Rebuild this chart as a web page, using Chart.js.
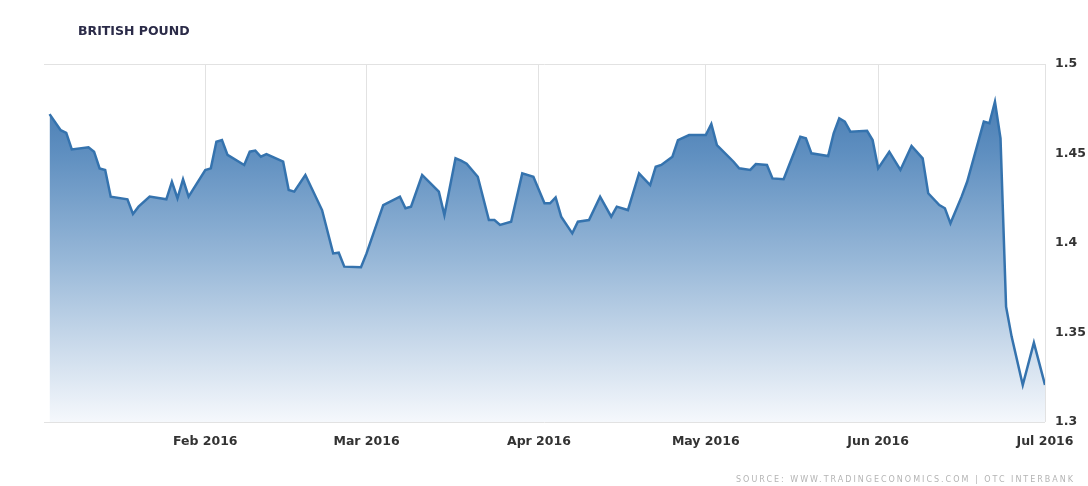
<!DOCTYPE html>
<html lang="en">
<head>
    <meta charset="UTF-8">
    <title>British Pound</title>
    <script src="https://cdn.jsdelivr.net/npm/chart.js@4.4.1/dist/chart.umd.min.js"></script>
    <style>
        body {
            margin: 0;
            background: #fff;
        }
        .wrap {
            position: relative;
            width: 1088px;
            height: 486px;
        }
        .title {
            position: absolute;
            left: 78px;
            top: 23px;
            font: bold 12.5px "DejaVu Sans", sans-serif;
            color: #2b2b48;
        }
        .source {
            position: absolute;
            left: 736px;
            top: 475px;
            font: 8px "DejaVu Sans", sans-serif;
            letter-spacing: 2px;
            color: #b4b4b4;
        }
    </style>
</head>
<body>
    <div class="wrap">
        <canvas id="gbpChart" width="1088" height="486"></canvas>
        <div class="title">BRITISH POUND</div>
        <div class="source">SOURCE: WWW.TRADINGECONOMICS.COM | OTC INTERBANK</div>
    </div>

    <script>
        // days counted from 1 Jan 2016, GBP/USD close
        const days = [
            3, 5, 6, 7, 10, 11, 12, 13, 14, 17, 18, 19, 21, 24, 25, 26, 27, 28,
            31, 32, 33, 34, 35, 38, 39, 40, 41, 42, 45, 46, 47, 49, 52, 54, 55, 56,
            59, 60, 63, 66, 67, 68, 70, 73, 74, 76, 77, 78, 80, 82, 83, 84, 86, 88, 90,
            92, 93, 94, 95, 97, 98, 100, 102, 104, 105, 107, 109, 111, 112, 113, 115, 116, 118,
            121, 122, 123, 126, 127, 129, 130, 132, 133, 135, 136, 138, 139, 140, 143, 144, 145, 146, 147, 150,
            151, 152, 154, 156, 158, 160, 161, 163, 164, 165, 167, 168, 171, 172, 173, 174, 175, 176, 178, 180, 182
        ];
        const rates = [
            1.472, 1.463, 1.4615, 1.4523, 1.4535, 1.451, 1.4417, 1.4408, 1.4259, 1.4244, 1.4162, 1.4203, 1.4259, 1.4244, 1.4342, 1.425, 1.4356, 1.4259,
            1.4408, 1.4417, 1.4566, 1.4575, 1.4492, 1.4436, 1.451, 1.4516, 1.4482, 1.4497, 1.4454, 1.4296, 1.4287, 1.438, 1.4184, 1.3942, 1.3946, 1.3868,
            1.3865, 1.3942, 1.4212, 1.4259, 1.4194, 1.4203, 1.438, 1.4287, 1.4156, 1.4473, 1.446, 1.4443, 1.437, 1.4128, 1.4128, 1.4101, 1.4119, 1.4389, 1.437,
            1.4222, 1.4222, 1.4255, 1.4147, 1.4054, 1.4119, 1.4128, 1.4259, 1.4147, 1.4203, 1.4184, 1.4389, 1.4324, 1.4426, 1.4436, 1.4482, 1.4575, 1.4603,
            1.4603, 1.4665, 1.4547, 1.4454, 1.4417, 1.4408, 1.4441, 1.4436, 1.4361, 1.4356, 1.4436, 1.4594, 1.4585, 1.4501, 1.4486, 1.4613, 1.4697, 1.4678, 1.4622, 1.4627,
            1.4575, 1.4417, 1.451, 1.4408, 1.4542, 1.4473, 1.4278, 1.4212, 1.4194, 1.411, 1.4259, 1.4342, 1.4678, 1.4669, 1.4789, 1.4585, 1.3644, 1.3477, 1.3207, 1.3443, 1.3207
        ];

        // month starts on the time axis
        const monthDays = [31, 60, 91, 121, 152, 182];
        const monthLabels = ['Feb 2016', 'Mar 2016', 'Apr 2016', 'May 2016', 'Jun 2016', 'Jul 2016'];

        const axisFont = { family: 'DejaVu Sans', size: 12.5, weight: 'bold' };

        function areaGradient(context) {
            const area = context.chart.chartArea;
            if (!area) return 'rgba(70,120,175,0.6)';
            const g = context.chart.ctx.createLinearGradient(0, area.top, 0, area.bottom);
            g.addColorStop(0, '#3b72ab');
            g.addColorStop(0.25, '#5f8fc0');
            g.addColorStop(0.55, '#98b8d8');
            g.addColorStop(0.8, '#cddcec');
            g.addColorStop(1, '#f5f8fc');
            return g;
        }

        const ctx = document.getElementById('gbpChart').getContext('2d');
        new Chart(ctx, {
            type: 'line',
            data: {
                datasets: [{
                    data: days.map((d, i) => ({ x: d, y: rates[i] })),
                    borderColor: '#3573ae',
                    borderWidth: 2.5,
                    backgroundColor: areaGradient,
                    fill: 'start',
                    tension: 0,
                    pointRadius: 0
                }]
            },
            options: {
                responsive: false,
                animation: false,
                layout: { padding: { left: 44, top: 64, right: 0, bottom: 0 } },
                plugins: {
                    legend: { display: false },
                    tooltip: { enabled: false }
                },
                scales: {
                    x: {
                        type: 'linear',
                        min: 2,
                        max: 182,
                        afterFit(scale) { scale.height = 64; },
                        afterBuildTicks(scale) {
                            scale.ticks = monthDays.map(v => ({ value: v }));
                        },
                        ticks: {
                            autoSkip: false,
                            maxRotation: 0,
                            padding: 12,
                            color: '#333',
                            font: axisFont,
                            callback: v => monthLabels[monthDays.indexOf(v)]
                        },
                        grid: { color: '#e2e2e2', drawTicks: false },
                        border: { display: false }
                    },
                    y: {
                        position: 'right',
                        min: 1.3,
                        max: 1.5,
                        afterFit(scale) { scale.width = 43; },
                        ticks: {
                            stepSize: 0.05,
                            padding: 10,
                            color: '#333',
                            font: axisFont,
                            callback: v => String(+v.toFixed(2))
                        },
                        grid: {
                            drawTicks: false,
                            color: c => (c.tick && (c.tick.value === 1.5 || c.tick.value === 1.3)) ? '#e2e2e2' : 'rgba(0,0,0,0)'
                        },
                        border: { display: false }
                    }
                }
            }
        });
    </script>
</body>
</html>
